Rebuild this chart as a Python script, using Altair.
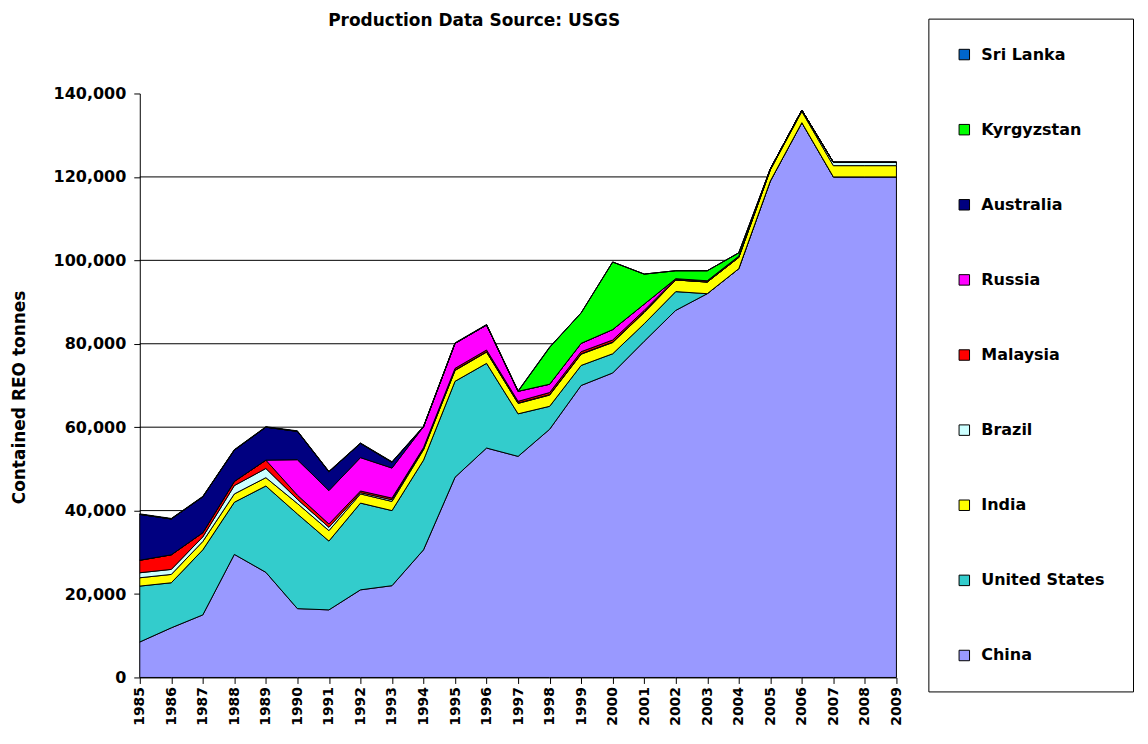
import altair as alt
import pandas as pd

years = list(range(1985, 2010))

# stack order bottom -> top
countries = ["China", "United States", "India", "Brazil", "Malaysia",
             "Russia", "Australia", "Kyrgyzstan", "Sri Lanka"]
colors = ["#9999FF", "#33CCCC", "#FFFF00", "#CCFFFF", "#FF0000",
          "#FF00FF", "#000080", "#00FF00", "#0066CC"]

china = [8500, 11900, 15000, 29500, 25200, 16500, 16200, 21000, 22000, 30600,
         48000, 55000, 53000, 59500, 70000, 73000, 80600, 88000, 92000, 98000,
         119000, 133000, 120000, 120000, 120000]
united_states = [13400, 10800, 15600, 12500, 20700, 22700, 16500, 20800, 18000, 21500,
                 23000, 20300, 10200, 5500, 4800, 4600, 4200, 4500, 0, 0,
                 0, 0, 0, 0, 0]
india = [2000, 2000, 2000, 2000, 2000, 2500, 2500, 2200, 2200, 2500,
         2600, 2700, 2500, 2700, 2700, 2700, 2700, 2800, 2800, 2700,
         2700, 2700, 2700, 2700, 2700]
brazil = [1200, 1200, 1100, 2000, 2200, 1000, 800, 300, 400, 200,
          100, 100, 100, 100, 100, 100, 100, 0, 0, 0,
          0, 300, 800, 800, 800]
malaysia = [3000, 3500, 1000, 1000, 2000, 1000, 800, 400, 400, 300,
            400, 400, 400, 500, 500, 500, 400, 300, 300, 300,
            200, 0, 0, 0, 0]
russia = [0, 0, 0, 0, 0, 8500, 8000, 8000, 7200, 5000,
          6000, 6000, 2400, 2000, 2000, 2500, 1500, 0, 0, 0,
          0, 0, 0, 0, 0]
australia = [11000, 8600, 8600, 7500, 7900, 6800, 4500, 3400, 1400, 0,
             0, 0, 0, 0, 0, 0, 0, 0, 0, 0,
             0, 0, 0, 0, 0]
kyrgyzstan = [0, 0, 0, 0, 0, 0, 0, 0, 0, 0,
              0, 0, 0, 8800, 7300, 16200, 7200, 1900, 2400, 800,
              0, 0, 0, 0, 0]
sri_lanka = [120, 120, 120, 120, 120, 120, 120, 120, 120, 120,
             120, 120, 120, 120, 0, 0, 0, 0, 0, 0,
             0, 0, 0, 0, 0]

series = [china, united_states, india, brazil, malaysia,
          russia, australia, kyrgyzstan, sri_lanka]

grid_values = [20000, 40000, 60000, 80000, 100000, 120000]
y_ticks = [0, 20000, 40000, 60000, 80000, 100000, 120000, 140000]

rows = []
for idx, (name, vals) in enumerate(zip(countries, series)):
    for yr, v in zip(years, vals):
        rows.append({"year": yr, "country": name, "value": v, "idx": idx})
df = pd.DataFrame(rows)

legend_order = list(reversed(countries))
legend_colors = list(reversed(colors))

FONT = "DejaVu Sans"

y_axis = alt.Axis(values=y_ticks, format=",.0f", grid=False, title="Contained REO tonnes",
                  titleFont=FONT, titleFontSize=17, titleFontWeight="bold", titleColor="black",
                  titleX=-120, titleY=304, titleBaseline="middle",
                  labelFont=FONT, labelFontSize=16, labelFontWeight="bold", labelColor="black",
                  labelPadding=8, tickSize=6, tickColor="black", domainColor="black")

y_scale = alt.Scale(domain=[0, 140000], nice=False)

grid = alt.Chart(pd.DataFrame({"v": grid_values})).mark_rule(
    color="black", strokeWidth=1
).encode(y=alt.Y("v:Q", scale=y_scale, axis=y_axis))

areas = alt.Chart(df).mark_area(
    stroke="black", strokeWidth=1, opacity=1, interpolate="linear"
).encode(
    x=alt.X("year:Q", scale=alt.Scale(domain=[1985, 2009], nice=False, zero=False),
            axis=alt.Axis(values=years, format="d", labelAngle=-90, title=None, grid=False,
                          labelFont=FONT, labelFontSize=14, labelFontWeight="bold",
                          labelColor="black", labelPadding=3, tickSize=6,
                          tickColor="black", domainColor="black")),
    y=alt.Y("value:Q", stack="zero", scale=y_scale, axis=y_axis),
    color=alt.Color("country:N",
                    scale=alt.Scale(domain=legend_order, range=legend_colors),
                    legend=alt.Legend(title=None, orient="none", legendX=790, legendY=-75,
                                      symbolType="square", symbolSize=110,
                                      symbolStrokeColor="black", symbolStrokeWidth=1,
                                      symbolOpacity=1,
                                      labelFont=FONT, labelFontSize=16, labelFontWeight="bold",
                                      labelColor="black", labelOffset=9, labelLimit=300,
                                      rowPadding=59.25, padding=28,
                                      strokeColor="black", fillColor="white")),
    order=alt.Order("idx:Q", sort="ascending"),
)

chart = alt.layer(grid, areas).properties(
    width=758, height=585,
    title=alt.TitleParams("Production Data Source: USGS", font=FONT, fontSize=17,
                          fontWeight="bold", color="black", anchor="middle",
                          dx=-44, offset=-8, dy=4),
    padding={"left": 132, "top": 85, "right": 244, "bottom": 50},
    autosize=alt.AutoSizeParams(type="none"),
).configure(font=FONT, background="white").configure_view(stroke="transparent", strokeWidth=0)

chart.save("out.html", embed_options={"renderer": "svg", "actions": False})
